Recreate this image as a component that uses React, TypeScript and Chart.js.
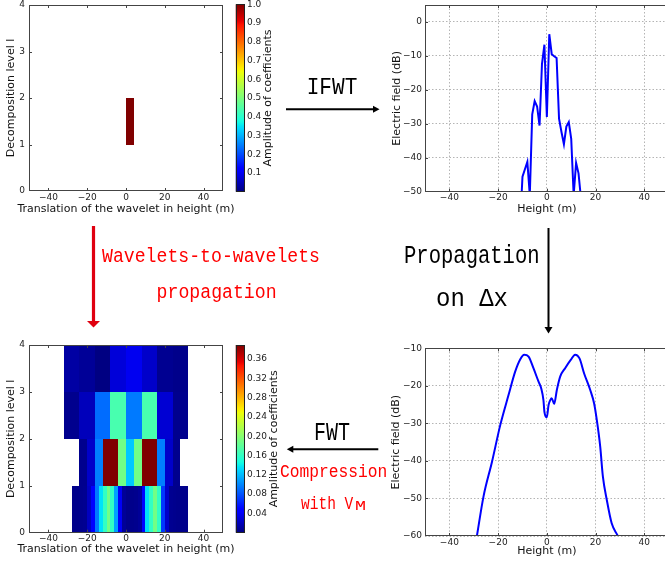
import React, { useEffect, useRef } from 'react';
import { Chart, registerables } from 'chart.js';

Chart.register(...registerables);

// ---------------- data ----------------
const HEAT_X_TICKS = [-40, -20, 0, 20, 40];
const HEAT_Y_TICKS = [0, 1, 2, 3, 4];
const FIELD_X_TICKS = [-40, -20, 0, 20, 40];
const TOP_FIELD_Y_TICKS = [0, -10, -20, -30, -40, -50];
const BOTTOM_FIELD_Y_TICKS = [-10, -20, -30, -40, -50, -60];
const TOP_CBAR_TICKS = [0.1, 0.2, 0.3, 0.4, 0.5, 0.6, 0.7, 0.8, 0.9, 1.0];
const BOTTOM_CBAR_TICKS = [0.04, 0.08, 0.12, 0.16, 0.2, 0.24, 0.28, 0.32, 0.36];

const TOP_VMAX = 1.0;
const BOTTOM_VMAX = 0.389;

// Top map: single non-zero wavelet coefficient
const TOP_LEVELS = [1];
const TOP_STARTS = [0];
const TOP_WIDTHS = [4];
const TOP_AMPLITUDES = [1.0];

// Bottom map: coefficients after wavelet-to-wavelet propagation
const LEVEL0_START = -28;
const LEVEL0_WIDTH = 2;
const LEVEL0_AMPLITUDES = [0.004, 0.004, 0.005, 0.006, 0.022, 0.045, 0.095, 0.135, 0.16, 0.19, 0.16, 0.11, 0.04, 0.008, 0.004, 0.004, 0.005, 0.008, 0.05, 0.135, 0.16, 0.19, 0.16, 0.07, 0.025, 0.006, 0.005, 0.004, 0.004, 0.004];
const LEVEL1_START = -24;
const LEVEL1_WIDTH = 4;
const LEVEL1_AMPLITUDES = [0.005, 0.025, 0.097, 0.4, 0.4, 0.19, 0.125, 0.19, 0.4, 0.4, 0.097, 0.025, 0.005];
const LEVEL2_START = -32;
const LEVEL2_WIDTH = 8;
const LEVEL2_AMPLITUDES = [0.005, 0.02, 0.09, 0.17, 0.095, 0.17, 0.028, 0.005];
const LEVEL3_START = -32;
const LEVEL3_WIDTH = 8;
const LEVEL3_AMPLITUDES = [0.012, 0.008, 0.001, 0.03, 0.038, 0.025, 0.006, 0.004];

// Electric field before propagation (top right)
const TOP_FIELD_X = [-11, -10, -9, -8, -7, -6, -5, -4, -3, -2, -1, 0, 1, 2, 3, 4, 5, 6, 7, 8, 9, 10, 11, 12, 13, 14];
const TOP_FIELD_DB = [-60, -45.6, -43.4, -41.2, -51, -27.2, -23.3, -24.9, -30.5, -12.4, -6.7, -28, -3.6, -9.5, -10.1, -10.6, -28.5, -32.4, -36, -30.8, -29.5, -34.4, -51, -41.5, -44.6, -52];

// Electric field after propagation (bottom right)
const BOTTOM_FIELD_X = [-28.7, -26, -22.5, -19.1, -15.7, -13, -10.9, -9.3, -7.5, -5.5, -3.4, -2.3, -1.4, -1, 0, 0.7, 1.4, 2, 3, 4.1, 5.5, 7.5, 9.8, 11.6, 13.4, 15.3, 17.8, 19.4, 20.5, 21.9, 23, 24.6, 26.6, 28.9, 29.4];
const BOTTOM_FIELD_DB = [-60, -49.5, -40.2, -30.4, -22.4, -16.2, -12.9, -11.7, -12.2, -15.3, -18.9, -20.7, -23.8, -26.9, -28.4, -25.1, -23.8, -23.3, -24.8, -21.1, -17.5, -15.3, -13.1, -11.7, -12.7, -16.7, -21.1, -24.7, -29.1, -36.2, -44.2, -50.4, -56.6, -59.7, -60.3];

// ---------------- helpers ----------------
const FONT = "'DejaVu Sans', sans-serif";
const tickFont = { family: FONT, size: 9 };
const titleFont = { family: FONT, size: 11 };
const TICK_COLOR = '#222';
const FRAME_COLOR = '#444';

const JET_R: [number, number][] = [[0, 0], [0.35, 0], [0.66, 1], [0.89, 1], [1, 0.5]];
const JET_G: [number, number][] = [[0, 0], [0.125, 0], [0.375, 1], [0.64, 1], [0.91, 0], [1, 0]];
const JET_B: [number, number][] = [[0, 0.5], [0.11, 1], [0.34, 1], [0.65, 0], [1, 0]];

function interp(table: [number, number][], f: number) {
  for (let i = 1; i < table.length; i++) {
    if (f <= table[i][0]) {
      const [x0, y0] = table[i - 1];
      const [x1, y1] = table[i];
      return y0 + ((f - x0) / (x1 - x0)) * (y1 - y0);
    }
  }
  return table[table.length - 1][1];
}
function jet(f: number) {
  const t = Math.max(0, Math.min(1, f));
  const r = Math.round(255 * interp(JET_R, t));
  const g = Math.round(255 * interp(JET_G, t));
  const b = Math.round(255 * interp(JET_B, t));
  return `rgb(${r},${g},${b})`;
}
function minus(v: any) {
  return String(v).replace('-', '\u2212');
}

type Cell = { x0: number; x1: number; y0: number; y1: number; v: number };
function rowCells(level: number, start: number, width: number, amps: number[]): Cell[] {
  return amps.map((v, i) => ({ x0: start + i * width, x1: start + (i + 1) * width, y0: level, y1: level + 1, v }));
}
const TOP_CELLS: Cell[] = TOP_LEVELS.map((l, i) => ({ x0: TOP_STARTS[i], x1: TOP_STARTS[i] + TOP_WIDTHS[i], y0: l, y1: l + 1, v: TOP_AMPLITUDES[i] }));
const BOTTOM_CELLS: Cell[] = [
  ...rowCells(0, LEVEL0_START, LEVEL0_WIDTH, LEVEL0_AMPLITUDES),
  ...rowCells(1, LEVEL1_START, LEVEL1_WIDTH, LEVEL1_AMPLITUDES),
  ...rowCells(2, LEVEL2_START, LEVEL2_WIDTH, LEVEL2_AMPLITUDES),
  ...rowCells(3, LEVEL3_START, LEVEL3_WIDTH, LEVEL3_AMPLITUDES),
];

function heatPlugin(cells: Cell[], vmax: number) {
  return {
    id: 'heatcells',
    beforeDatasetsDraw(chart: any) {
      const { ctx, chartArea: a, scales } = chart;
      const x = scales.x, y = scales.y;
      ctx.save();
      ctx.beginPath();
      ctx.rect(a.left, a.top, a.right - a.left, a.bottom - a.top);
      ctx.clip();
      for (const c of cells) {
        const xa = Math.round(x.getPixelForValue(c.x0));
        const xb = Math.round(x.getPixelForValue(c.x1));
        const ya = Math.round(y.getPixelForValue(c.y1));
        const yb = Math.round(y.getPixelForValue(c.y0));
        ctx.fillStyle = jet(c.v / vmax);
        ctx.fillRect(xa, ya, xb - xa, yb - ya);
      }
      ctx.restore();
    },
  };
}

// x-axis title drawn without the axis-width clamp (it is wider than the plot in the original)
function xTitlePlugin(text: string, bottomPad: number) {
  return {
    id: 'xtitle',
    afterDraw(chart: any) {
      const { ctx, chartArea: a } = chart;
      ctx.save();
      ctx.font = `${titleFont.size}px ${FONT}`;
      ctx.fillStyle = '#111';
      ctx.textAlign = 'center';
      ctx.textBaseline = 'middle';
      ctx.fillText(text, (a.left + a.right) / 2, chart.height - bottomPad - titleFont.size * 0.6);
      ctx.restore();
    },
  };
}

function framePlugin(tickLen: number) {
  return {
    id: 'frameTicks',
    afterDraw(chart: any) {
      const { ctx, chartArea: a, scales } = chart;
      const x = scales.x, y = scales.y;
      ctx.save();
      ctx.setLineDash([]);
      ctx.strokeStyle = FRAME_COLOR;
      ctx.lineWidth = 1;
      ctx.beginPath();
      for (const t of x.ticks) {
        const p = Math.round(x.getPixelForValue(t.value)) + 0.5;
        if (p <= a.left + 1 || p >= a.right - 1) continue;
        ctx.moveTo(p, a.bottom);
        ctx.lineTo(p, a.bottom - tickLen);
        ctx.moveTo(p, a.top);
        ctx.lineTo(p, a.top + tickLen);
      }
      for (const t of y.ticks) {
        const p = Math.round(y.getPixelForValue(t.value)) + 0.5;
        if (p <= a.top + 1 || p >= a.bottom - 1) continue;
        ctx.moveTo(a.left, p);
        ctx.lineTo(a.left + tickLen, p);
        ctx.moveTo(a.right, p);
        ctx.lineTo(a.right - tickLen, p);
      }
      ctx.stroke();
      const l = Math.round(a.left) + 0.5;
      const t = Math.round(a.top) + 0.5;
      const r = Math.round(a.right) - 0.5;
      const b = Math.round(a.bottom) - 0.5;
      ctx.strokeRect(l, t, r - l, b - t);
      ctx.restore();
    },
  };
}

function colorbarPlugin(vmax: number, title: string) {
  return {
    id: 'colorbar',
    beforeDatasetsDraw(chart: any) {
      const { ctx, chartArea: a, scales } = chart;
      const y = scales.y;
      const yb = y.getPixelForValue(0);
      const yt = y.getPixelForValue(vmax);
      const g = ctx.createLinearGradient(0, yb, 0, yt);
      for (let i = 0; i <= 100; i++) g.addColorStop(i / 100, jet(i / 100));
      ctx.save();
      ctx.fillStyle = g;
      ctx.fillRect(a.left, yt, a.right - a.left, yb - yt);
      ctx.restore();
    },
    afterDraw(chart: any) {
      const { ctx, chartArea: a, scales } = chart;
      const y = scales.y;
      ctx.save();
      ctx.strokeStyle = '#222';
      ctx.lineWidth = 1;
      ctx.strokeRect(Math.round(a.left) + 0.5, Math.round(a.top) + 0.5, Math.round(a.right) - Math.round(a.left) - 1, Math.round(a.bottom) - Math.round(a.top) - 1);
      ctx.font = `${tickFont.size}px ${FONT}`;
      let maxW = 0;
      for (const t of y.ticks) maxW = Math.max(maxW, ctx.measureText(String(t.label)).width);
      const tx = a.right + 2 + maxW + 7;
      ctx.translate(tx, (a.top + a.bottom) / 2);
      ctx.rotate(-Math.PI / 2);
      ctx.font = `${titleFont.size}px ${FONT}`;
      ctx.fillStyle = '#111';
      ctx.textAlign = 'center';
      ctx.textBaseline = 'middle';
      ctx.fillText(title, 0, 0);
      ctx.restore();
    },
  };
}

function resetPad(s: any) {
  s.paddingLeft = 0;
  s.paddingRight = 0;
  s.paddingTop = 0;
  s.paddingBottom = 0;
}

function xAxis(ticks: number[], title: string, height: number, titlePad: number, grid: boolean, showTitle: boolean) {
  return {
    type: 'linear',
    min: -50,
    max: 50,
    afterBuildTicks: (s: any) => { s.ticks = ticks.map((v) => ({ value: v })); },
    afterFit: (s: any) => { s.height = height; resetPad(s); },
    grid: { display: grid, drawTicks: false, color: '#b4b4b4', lineWidth: 1 },
    border: { display: false, dash: [1.5, 2] },
    ticks: { font: tickFont, color: TICK_COLOR, padding: 1, maxRotation: 0, autoSkip: false, callback: (v: any) => minus(v) },
    title: { display: showTitle, text: title, font: titleFont, color: '#111', padding: { top: 0, bottom: titlePad } },
  };
}

function yAxis(ticks: number[], min: number, max: number, title: string, width: number, titlePad: number, grid: boolean, labelPad: number) {
  return {
    type: 'linear',
    min,
    max,
    afterBuildTicks: (s: any) => { s.ticks = ticks.map((v) => ({ value: v })); },
    afterFit: (s: any) => { s.width = width; resetPad(s); },
    grid: { display: grid, drawTicks: false, color: '#b4b4b4', lineWidth: 1 },
    border: { display: false, dash: [1.5, 2] },
    ticks: { font: tickFont, color: TICK_COLOR, padding: labelPad, autoSkip: false, callback: (v: any) => minus(v) },
    title: { display: true, text: title, font: titleFont, color: '#111', padding: { top: titlePad, bottom: 0 } },
  };
}

const baseOptions = {
  animation: false,
  responsive: false,
  devicePixelRatio: 1,
  events: [],
  plugins: { legend: { display: false }, tooltip: { enabled: false } },
};

const HEAT_X_TITLE = 'Translation of the wavelet in height (m)';

function heatmapConfig(cells: Cell[], vmax: number, top: number, right: number, xHeight: number, xTitlePad: number) {
  return {
    type: 'scatter',
    data: { datasets: [] },
    options: {
      ...baseOptions,
      layout: { padding: { top, right, bottom: 0, left: 0 }, autoPadding: false },
      scales: {
        x: xAxis(HEAT_X_TICKS, HEAT_X_TITLE, xHeight, xTitlePad, false, false),
        y: yAxis(HEAT_Y_TICKS, 0, 4, 'Decomposition level l', 29, 5, false, 4),
      },
    },
    plugins: [heatPlugin(cells, vmax), framePlugin(3), xTitlePlugin(HEAT_X_TITLE, xTitlePad)],
  };
}

function fieldConfig(xs: number[], ys: number[], yTicks: number[], yMin: number, yMax: number, smooth: boolean, top: number, xHeight: number, xTitlePad: number, yTitlePad: number) {
  return {
    type: 'scatter',
    data: {
      datasets: [{
        data: xs.map((x, i) => ({ x, y: ys[i] })),
        showLine: true,
        borderColor: '#0000ff',
        borderWidth: 2,
        pointRadius: 0,
        fill: false,
        tension: smooth ? 0.4 : 0,
        cubicInterpolationMode: smooth ? 'monotone' : 'default',
      }],
    },
    options: {
      ...baseOptions,
      layout: { padding: { top, right: 11.3, bottom: 0, left: 0 }, autoPadding: false },
      scales: {
        x: xAxis(FIELD_X_TICKS, 'Height (m)', xHeight, xTitlePad, true, true),
        y: yAxis(yTicks, yMin, yMax, 'Electric field (dB)', 45, yTitlePad, true, 3),
      },
    },
    plugins: [framePlugin(3)],
  };
}

function colorbarConfig(ticks: number[], vmax: number, decimals: number, top: number, bottom: number) {
  return {
    type: 'scatter',
    data: { datasets: [] },
    options: {
      ...baseOptions,
      layout: { padding: { top, right: 0, bottom, left: 5.7 }, autoPadding: false },
      scales: {
        x: { type: 'linear', display: false, min: 0, max: 1 },
        y: {
          type: 'linear',
          position: 'right',
          min: 0,
          max: vmax,
          afterBuildTicks: (s: any) => { s.ticks = ticks.map((v) => ({ value: v })); },
          afterFit: (s: any) => { s.width = 45; resetPad(s); },
          grid: { display: false, drawTicks: false },
          border: { display: false },
          ticks: { font: tickFont, color: TICK_COLOR, padding: 2, autoSkip: false, callback: (v: any) => Number(v).toFixed(decimals) },
        },
      },
    },
    plugins: [colorbarPlugin(vmax, 'Amplitude of coefficients')],
  };
}

function ChartBox({ left, top, width, height, make }: { left: number; top: number; width: number; height: number; make: () => any }) {
  const ref = useRef<HTMLCanvasElement>(null);
  useEffect(() => {
    const chart = new Chart(ref.current as HTMLCanvasElement, make());
    return () => chart.destroy();
  }, []);
  return (
    <div style={{ position: 'absolute', left, top, width, height }}>
      <canvas ref={ref} width={width} height={height} style={{ width, height, display: 'block' }} />
    </div>
  );
}

const MONO = "'Liberation Mono', monospace";

export default function App() {
  return (
    <div style={{ position: 'absolute', left: 0, top: 0, width: 665, height: 565, overflow: 'hidden', background: '#fff' }}>
      <ChartBox left={0} top={0} width={238} height={220} make={() => heatmapConfig(TOP_CELLS, TOP_VMAX, 5, 15, 29, 4)} />
      <ChartBox left={230} top={0} width={60} height={220} make={() => colorbarConfig(TOP_CBAR_TICKS, TOP_VMAX, 1, 4.3, 28.3)} />
      <ChartBox left={380} top={0} width={300} height={220} make={() => fieldConfig(TOP_FIELD_X, TOP_FIELD_DB, TOP_FIELD_Y_TICKS, -50, 5, false, 5, 28.3, 4.4, 11)} />
      <ChartBox left={0} top={340} width={238} height={225} make={() => heatmapConfig(BOTTOM_CELLS, BOTTOM_VMAX, 5, 15, 32.3, 9.4)} />
      <ChartBox left={230} top={340} width={60} height={225} make={() => colorbarConfig(BOTTOM_CBAR_TICKS, BOTTOM_VMAX, 2, 5, 32.3)} />
      <ChartBox left={380} top={340} width={300} height={225} make={() => fieldConfig(BOTTOM_FIELD_X, BOTTOM_FIELD_DB, BOTTOM_FIELD_Y_TICKS, -60, -10, true, 8.3, 29, 7.6, 10)} />
      <svg width={665} height={565} style={{ position: 'absolute', left: 0, top: 0, pointerEvents: 'none' }}>
        <g fontFamily={MONO}>
          <text x={306.7} y={94.3} fontSize={23} fill="#000" textLength={50.6} lengthAdjust="spacingAndGlyphs">IFWT</text>
          <text x={102} y={261.7} fontSize={20} fill="#ff0000" textLength={218} lengthAdjust="spacingAndGlyphs">Wavelets-to-wavelets</text>
          <text x={156.6} y={298} fontSize={20} fill="#ff0000" textLength={120} lengthAdjust="spacingAndGlyphs">propagation</text>
          <text x={404} y={263} fontSize={25} fill="#000" textLength={135.6} lengthAdjust="spacingAndGlyphs">Propagation</text>
          <text x={436} y={306} fontSize={25} fill="#000" textLength={72} lengthAdjust="spacingAndGlyphs">on Δx</text>
          <text x={314} y={440} fontSize={25} fill="#000" textLength={36} lengthAdjust="spacingAndGlyphs">FWT</text>
          <text x={280} y={477.3} fontSize={18.5} fill="#ff0000" textLength={107.3} lengthAdjust="spacingAndGlyphs">Compression</text>
          <text x={301} y={509.3} fontSize={18.5} fill="#ff0000" textLength={52.3} lengthAdjust="spacingAndGlyphs">with V</text>
          <text x={355} y={510} fontSize={12} fill="#ff0000" textLength={11} lengthAdjust="spacingAndGlyphs">M</text>
        </g>
        <line x1={286} y1={109.3} x2={374} y2={109.3} stroke="#000" strokeWidth={2} />
        <polygon points="379.5,109.3 373,105.8 373,112.8" fill="#000" />
        <line x1={378.3} y1={449.3} x2={292} y2={449.3} stroke="#000" strokeWidth={2} />
        <polygon points="286.8,449.3 293.3,445.8 293.3,452.8" fill="#000" />
        <line x1={93.5} y1={226} x2={93.5} y2={322} stroke="#e00010" strokeWidth={3.2} />
        <polygon points="87,321 100,321 93.5,327.5" fill="#e00010" />
        <line x1={548.5} y1={228} x2={548.5} y2={328} stroke="#000" strokeWidth={2} />
        <polygon points="544.5,327 552.5,327 548.5,333.5" fill="#000" />
      </svg>
    </div>
  );
}
